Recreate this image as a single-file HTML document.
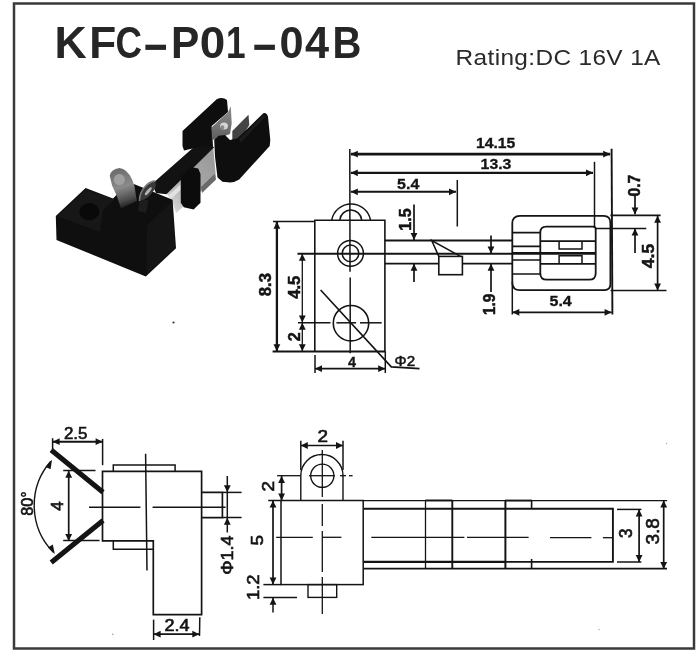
<!DOCTYPE html>
<html><head><meta charset="utf-8"><title>KFC-P01-04B</title>
<style>
html,body{margin:0;padding:0;background:#fff;}
body{width:700px;height:660px;overflow:hidden;font-family:"Liberation Sans",sans-serif;}
svg{display:block;position:absolute;left:0;top:0;}
.d line,.d path,.d rect,.d circle,.d polyline{stroke:#141414;fill:none;stroke-linecap:butt;}
.d .f{fill:#141414;stroke:none;}
.t{font-family:"Liberation Sans",sans-serif;fill:#141414;}
</style></head><body>
<svg width="700" height="660" viewBox="0 0 700 660">
<defs>
<filter id="soft" color-interpolation-filters="sRGB" x="-5%" y="-5%" width="110%" height="110%"><feGaussianBlur stdDeviation="0.4"/></filter>
<filter id="ph" color-interpolation-filters="sRGB" x="-5%" y="-5%" width="110%" height="110%"><feGaussianBlur stdDeviation="0.6"/></filter>
<filter id="tt" color-interpolation-filters="sRGB" x="-5%" y="-20%" width="110%" height="140%"><feGaussianBlur stdDeviation="0.3"/></filter>
</defs>
<rect x="14" y="3.5" width="680" height="645" fill="none" stroke="#3a3a3a" stroke-width="2.5"/>
<g filter="url(#tt)">
<text class="t" transform="translate(54.5,57.6) scale(1.013,1)" font-size="44" font-weight="bold" style="fill:#262626">K</text>
<text class="t" transform="translate(89.2,57.6) scale(1.003,1)" font-size="44" font-weight="bold" style="fill:#262626">F</text>
<text class="t" transform="translate(115.5,57.6) scale(0.834,1)" font-size="44" font-weight="bold" style="fill:#262626">C</text>
<rect x="145.4" y="44.7" width="20.6" height="5.2" fill="#262626"/>
<text class="t" transform="translate(170.9,57.6) scale(0.964,1)" font-size="44" font-weight="bold" style="fill:#262626">P</text>
<text class="t" transform="translate(199.8,57.6) scale(1.042,1)" font-size="44" font-weight="bold" style="fill:#262626">0</text>
<text class="t" transform="translate(225.9,57.6) scale(0.8,1)" font-size="44" font-weight="bold" style="fill:#262626">1</text>
<rect x="254.3" y="44.7" width="20.6" height="5.2" fill="#262626"/>
<text class="t" transform="translate(279.6,57.6) scale(0.984,1)" font-size="44" font-weight="bold" style="fill:#262626">0</text>
<text class="t" transform="translate(305.0,57.6) scale(0.984,1)" font-size="44" font-weight="bold" style="fill:#262626">4</text>
<text class="t" transform="translate(332.6,57.6) scale(0.909,1)" font-size="44" font-weight="bold" style="fill:#262626">B</text>
<text class="t" transform="translate(455.6,64.6) scale(1.08,1)" font-size="22.6" textLength="189.6" lengthAdjust="spacing" style="fill:#2a2a2a">Rating:DC 16V 1A</text>
</g>
<defs>
<linearGradient id="gsil" gradientUnits="userSpaceOnUse" x1="168" y1="205" x2="214" y2="165">
<stop offset="0" stop-color="#d9d9d9"/><stop offset="0.25" stop-color="#bdbdbd"/><stop offset="0.55" stop-color="#a8a8a8"/><stop offset="1" stop-color="#9c9c9c"/>
</linearGradient>
<linearGradient id="glug" gradientUnits="userSpaceOnUse" x1="118" y1="170" x2="130" y2="207">
<stop offset="0" stop-color="#6e6e6e"/><stop offset="0.45" stop-color="#8a8a8a"/><stop offset="0.8" stop-color="#4a4a4a"/><stop offset="1" stop-color="#161616"/>
</linearGradient>
<linearGradient id="gpl" x1="0" y1="0" x2="0" y2="1">
<stop offset="0" stop-color="#8f8f8f"/><stop offset="1" stop-color="#5e5e5e"/>
</linearGradient>
</defs>
<g filter="url(#ph)">
<polygon points="166.4,193.6 213.3,147.9 216,178 176,213 171.7,199.7" fill="url(#gsil)"/>
<polygon points="201,187 214.5,174 216,179.5 202,193" fill="#6a6a6a"/>
<polygon points="168,196 180.5,184.5 180.5,190 170,200" fill="#e2e2e2"/>
<polygon points="152,184 197.4,143.9 208.8,141.4 214,147.5 166.4,194.2 156,193" fill="#121212"/>
<path d="M182.5,131 L216.7,99.2 Q222.5,96.5 227,100 L228,112 L211.7,126 L213,146 L199,147 L184,150.5 L182.5,146 Z" fill="#0e0e0e"/>
<polygon points="211.5,127.5 228.3,111.7 230.8,106 231.7,123.3 230,134 215,139.5 212,140" fill="url(#gpl)"/>
<ellipse cx="224" cy="126" rx="4" ry="3.6" fill="#d4d4d4"/>
<ellipse cx="222.3" cy="127.5" rx="2" ry="2.2" fill="#8a8a8a"/>
<polygon points="232.3,131 248.5,114.7 249.3,125 240,140 232.3,140" fill="#444"/>
<path d="M214.2,140 L218.7,135.8 L225,135 L230,140 L237.5,138.3 L263.3,113.3 Q266.5,112 268,116.7 L270.3,140 L269.7,146 L239.2,179.5 Q234,183 228,182.3 L222.5,181.7 L217.5,177.5 L215,156.7 Z" fill="#0e0e0e"/>
<polygon points="238.5,139.5 263.3,115 266,116 241,142.5" fill="#1b1b1b"/>
<path d="M180.8,180 L182.3,175.5 L190.6,167.1 L198.2,168.6 L200.5,173.9 L200.5,202.7 L193.6,209.5 L183.8,207.3 L180.8,202.7 Z" fill="#0c0c0c"/>
<polygon points="55.8,216 85.6,188 113,198.5 125,186 134.5,184.2 172.6,199.8 176,248.3 145.8,276.4 56.5,240" fill="#0f0f0f"/>
<polygon points="57.5,216.2 85.8,189.6 114,199.4 103,210 100,232" fill="#171717"/>
<polygon points="147,225.5 172,201.5 175,247.8 146.5,274.5" fill="#151515"/>
<ellipse cx="89.3" cy="211.6" rx="10" ry="8.6" fill="#090909"/>
<path d="M109.7,175.8 Q110.5,169.5 119.4,167.9 Q127,168.5 132.1,179.4 L134.5,186.1 L136.8,201 L121,208.5 L117,196.4 L112.1,185.5 Z" fill="url(#glug)"/>
<ellipse cx="119.4" cy="179.6" rx="5.6" ry="5.6" fill="#9f9f9f"/>
<path d="M139.5,200 L138,211 L146,213 L148.5,200 Z" fill="#1d1d1d"/>
<ellipse cx="147.9" cy="190.9" rx="11.2" ry="4.6" transform="rotate(-50 147.9 190.9)" fill="#3a3a3a"/>
<path d="M139.6,201 Q139,193 146,185.5 Q151,180.8 155.5,181.2" fill="none" stroke="#7d7d7d" stroke-width="1.6"/>
<ellipse cx="148.3" cy="191.2" rx="5" ry="1.5" transform="rotate(-50 148.3 191.2)" fill="#b4b4b4"/>
</g>
<circle cx="173.5" cy="322.5" r="1.1" fill="#333"/>
<circle cx="112.8" cy="634.2" r="0.8" fill="#999"/>
<circle cx="666.5" cy="443.5" r="0.7" fill="#aaa"/>
<circle cx="599" cy="629.5" r="0.7" fill="#aaa"/>
<g class="d" filter="url(#soft)">
<line x1="349.8" y1="149" x2="350" y2="271.7" stroke-width="1.5" />
<line x1="350.2" y1="277.6" x2="350.2" y2="353.3" stroke-width="1.5" />
<line x1="350.8" y1="154.1" x2="610.2" y2="154.1" stroke-width="2.6" />
<polygon class="f" points="350.8,154.1 357.8,150.7 357.8,157.5"/>
<polygon class="f" points="610.2,154.1 603.2,150.7 603.2,157.5"/>
<line x1="350.8" y1="172.8" x2="593" y2="172.8" stroke-width="2.3" />
<polygon class="f" points="350.8,172.8 357.8,169.4 357.8,176.2"/>
<polygon class="f" points="593.0,172.8 586.0,169.4 586.0,176.2"/>
<line x1="350.8" y1="191.8" x2="456" y2="191.8" stroke-width="2.1" />
<polygon class="f" points="350.8,191.8 357.8,188.4 357.8,195.2"/>
<polygon class="f" points="456.0,191.8 449.0,188.4 449.0,195.2"/>
<line x1="457.3" y1="180" x2="457.3" y2="226.5" stroke-width="1.5" />
<line x1="594.5" y1="161.8" x2="594.5" y2="228" stroke-width="1.5" />
<line x1="611.6" y1="148.7" x2="612.4" y2="314.5" stroke-width="1.9" />
<path d="M314.8,351.5 V220.3 H384.9 V351.5" stroke-width="1.6"/>
<line x1="272.6" y1="351.5" x2="385.7" y2="351.5" stroke-width="2.1" />
<path d="M331.7,220 A19.75,19.75 0 0 1 370.5,220" stroke-width="1.5"/>
<path d="M339.8,220 A11,11 0 0 1 361.7,220" stroke-width="1.5"/>
<circle cx="350.5" cy="253.4" r="12.9" stroke-width="1.5"/>
<circle cx="350.5" cy="253.4" r="8.3" stroke-width="1.5"/>
<line x1="297.5" y1="253.7" x2="512.3" y2="253.7" stroke-width="1.9" />
<circle cx="351" cy="323.2" r="17.7" stroke-width="1.6"/>
<line x1="298" y1="322.8" x2="330.5" y2="322.8" stroke-width="1.5" />
<line x1="336.4" y1="322.8" x2="356.1" y2="322.8" stroke-width="1.5" />
<line x1="360" y1="322.8" x2="381.7" y2="322.8" stroke-width="1.5" />
<polyline points="320.6,290 391.3,366.9 419.5,368.6" stroke-width="1.6"/>
<line x1="273" y1="221.6" x2="315" y2="221.6" stroke-width="1.5" />
<line x1="276.9" y1="221.8" x2="276.9" y2="351.3" stroke-width="2.3" />
<polygon class="f" points="276.9,221.8 273.5,228.8 280.3,228.8"/>
<polygon class="f" points="276.9,351.3 273.5,344.3 280.3,344.3"/>
<line x1="302.3" y1="253.7" x2="302.3" y2="322.5" stroke-width="1.3" />
<polygon class="f" points="302.3,253.7 298.9,260.7 305.7,260.7"/>
<polygon class="f" points="302.3,322.5 298.9,315.5 305.7,315.5"/>
<line x1="302.3" y1="322.6" x2="302.3" y2="351.2" stroke-width="1.3" />
<polygon class="f" points="302.3,322.8 298.9,329.8 305.7,329.8"/>
<polygon class="f" points="302.3,351.2 298.9,344.2 305.7,344.2"/>
<line x1="315" y1="355" x2="315" y2="373" stroke-width="1.5" />
<line x1="385.3" y1="351.5" x2="385.3" y2="373" stroke-width="1.5" />
<line x1="315" y1="368.7" x2="385.2" y2="368.7" stroke-width="1.7" />
<polygon class="f" points="315.0,368.7 322.0,365.3 322.0,372.1"/>
<polygon class="f" points="385.2,368.7 378.2,365.3 378.2,372.1"/>
<line x1="385" y1="240.5" x2="512.3" y2="240.5" stroke-width="2.1" />
<line x1="385" y1="263.6" x2="512.3" y2="263.6" stroke-width="1.9" />
<line x1="414" y1="204.6" x2="414" y2="240" stroke-width="1.7" />
<polygon class="f" points="414.0,240.0 410.6,233.0 417.4,233.0"/>
<line x1="414" y1="263.5" x2="414" y2="282" stroke-width="1.7" />
<polygon class="f" points="414.0,263.8 410.6,270.8 417.4,270.8"/>
<polyline points="438.8,256.4 431.7,240.6 460.5,256.4" stroke-width="1.5"/>
<rect x="438.8" y="256.4" width="23.6" height="18.3" stroke-width="1.6" style="fill:#fff"/>
<line x1="491" y1="235.5" x2="491" y2="253.6" stroke-width="1.7" />
<polygon class="f" points="491.0,253.4 487.6,246.4 494.4,246.4"/>
<line x1="491" y1="263.5" x2="491" y2="292" stroke-width="1.7" />
<polygon class="f" points="491.0,263.8 487.6,270.8 494.4,270.8"/>
<path d="M520,215.9 H603.6 Q610.4,215.9 610.4,222.9 V284 Q610.4,290.1 604.4,290.1 H520 Q512.3,290.1 512.3,282.4 V223.6 Q512.3,215.9 520,215.9 Z" stroke-width="1.8"/>
<path d="M546.3,226.7 H593.2 Q595.7,226.7 595.7,229.2 V273.2 Q595.7,279.7 589.2,279.7 H546.8 Q540.3,279.7 540.3,273.2 V232.7 Q540.3,226.7 546.3,226.7 Z" stroke-width="1.8"/>
<path d="M512.3,232.7 H540.3 M512.3,246.3 H540.3 M512.3,260 H540.3 M512.3,274 H540.3" stroke-width="1.7"/>
<line x1="540.3" y1="241.1" x2="595.7" y2="241.1" stroke-width="1.7" />
<line x1="512.3" y1="253.4" x2="595.7" y2="253.4" stroke-width="2.6" />
<line x1="540.3" y1="263.8" x2="595.7" y2="263.8" stroke-width="1.7" />
<path d="M559.1,241.1 V248.9 H582 V241.1" stroke-width="1.5"/>
<path d="M559.1,263.8 V255.8 H582 V263.8" stroke-width="1.5"/>
<line x1="635" y1="196" x2="635" y2="214.3" stroke-width="1.7" />
<polygon class="f" points="635.0,214.6 631.6,207.6 638.4,207.6"/>
<line x1="635" y1="229" x2="635" y2="253" stroke-width="1.7" />
<polygon class="f" points="635.0,228.6 631.6,235.6 638.4,235.6"/>
<line x1="610.4" y1="215.4" x2="660.6" y2="215.4" stroke-width="1.9" />
<line x1="595" y1="228.5" x2="646.3" y2="228.5" stroke-width="1.5" />
<line x1="657.6" y1="215.7" x2="657.6" y2="290.5" stroke-width="1.7" />
<polygon class="f" points="657.6,215.7 654.2,222.7 661.0,222.7"/>
<polygon class="f" points="657.6,290.5 654.2,283.5 661.0,283.5"/>
<line x1="610.6" y1="290.5" x2="666.5" y2="290.5" stroke-width="1.7" />
<line x1="512.3" y1="282" x2="512.3" y2="314.5" stroke-width="1.5" />
<line x1="512.3" y1="312.3" x2="611.6" y2="312.3" stroke-width="1.8" />
<polygon class="f" points="512.3,312.3 519.3,308.9 519.3,315.7"/>
<polygon class="f" points="611.6,312.3 604.6,308.9 604.6,315.7"/>
</g>
<g filter="url(#tt)">
<text class="t" x="495.6" y="148.3" font-size="14.4" text-anchor="middle" textLength="39.3" lengthAdjust="spacingAndGlyphs" font-weight="bold" stroke="#141414" stroke-width="0.3">14.15</text>
<text class="t" x="496" y="169.3" font-size="14.4" text-anchor="middle" textLength="30.8" lengthAdjust="spacingAndGlyphs" font-weight="bold" stroke="#141414" stroke-width="0.3">13.3</text>
<text class="t" x="408.2" y="189" font-size="14.4" text-anchor="middle" textLength="22.2" lengthAdjust="spacingAndGlyphs" font-weight="bold" stroke="#141414" stroke-width="0.3">5.4</text>
<text class="t" x="560.6" y="306.3" font-size="14.4" text-anchor="middle" textLength="22.2" lengthAdjust="spacingAndGlyphs" font-weight="bold" stroke="#141414" stroke-width="0.3">5.4</text>
<text class="t" x="352" y="367.3" font-size="14.4" text-anchor="middle" font-weight="bold" stroke="#141414" stroke-width="0.3">4</text>
<text class="t" x="404.8" y="365.5" font-size="15" text-anchor="middle" textLength="20.5" lengthAdjust="spacingAndGlyphs" stroke="#141414" stroke-width="0.55">Φ2</text>
<text class="t" x="411.2" y="219.6" font-size="15.8" text-anchor="middle" transform="rotate(-90 411.2 219.6)" textLength="22.4" lengthAdjust="spacingAndGlyphs" font-weight="bold" stroke="#141414" stroke-width="0.5">1.5</text>
<text class="t" x="271.5" y="284.6" font-size="15.8" text-anchor="middle" transform="rotate(-90 271.5 284.6)" textLength="23.2" lengthAdjust="spacingAndGlyphs" font-weight="bold" stroke="#141414" stroke-width="0.5">8.3</text>
<text class="t" x="300.2" y="287.2" font-size="15.8" text-anchor="middle" transform="rotate(-90 300.2 287.2)" textLength="23.2" lengthAdjust="spacingAndGlyphs" font-weight="bold" stroke="#141414" stroke-width="0.5">4.5</text>
<text class="t" x="300.2" y="336.7" font-size="15.8" text-anchor="middle" transform="rotate(-90 300.2 336.7)" textLength="9" lengthAdjust="spacingAndGlyphs" font-weight="bold" stroke="#141414" stroke-width="0.5">2</text>
<text class="t" x="494.8" y="304.4" font-size="15.8" text-anchor="middle" transform="rotate(-90 494.8 304.4)" textLength="21.4" lengthAdjust="spacingAndGlyphs" font-weight="bold" stroke="#141414" stroke-width="0.5">1.9</text>
<text class="t" x="640.2" y="185.6" font-size="15.8" text-anchor="middle" transform="rotate(-90 640.2 185.6)" textLength="21.9" lengthAdjust="spacingAndGlyphs" font-weight="bold" stroke="#141414" stroke-width="0.5">0.7</text>
<text class="t" x="653.6" y="256" font-size="15.8" text-anchor="middle" transform="rotate(-90 653.6 256)" textLength="24.3" lengthAdjust="spacingAndGlyphs" font-weight="bold" stroke="#141414" stroke-width="0.5">4.5</text>
</g>
<g class="d" filter="url(#soft)">
<path d="M102.5,471.3 H201.6 V614.6 H153.3 V540.8 H102.5 Z" stroke-width="1.7"/>
<path d="M113.3,471.3 V464.9 H175.1 V471.3" stroke-width="1.5"/>
<path d="M113.3,541 V549.2 H153.3" stroke-width="1.5"/>
<path d="M201.6,492.3 H222.4 V517.6 H201.6" stroke-width="1.7"/>
<line x1="145.6" y1="453.8" x2="147" y2="570.5" stroke-width="1.5" />
<line x1="89" y1="507.2" x2="140.4" y2="507.2" stroke-width="1.4" />
<line x1="152.6" y1="507.2" x2="225.6" y2="507.2" stroke-width="1.4" />
<line x1="51.2" y1="450" x2="103" y2="492.2" stroke-width="5"/>
<line x1="51.2" y1="562.5" x2="103" y2="520.5" stroke-width="5"/>
<line x1="52.6" y1="438.2" x2="52.6" y2="449.5" stroke-width="1.5" />
<line x1="102.6" y1="438.9" x2="102.6" y2="465.2" stroke-width="1.5" />
<line x1="52.6" y1="441.7" x2="102.6" y2="441.7" stroke-width="2.0" />
<polygon class="f" points="52.6,441.7 59.6,438.3 59.6,445.1"/>
<polygon class="f" points="102.6,441.7 95.6,438.3 95.6,445.1"/>
<line x1="63.2" y1="470.6" x2="95.5" y2="470.6" stroke-width="1.5" />
<line x1="63.2" y1="540.6" x2="99.5" y2="540.6" stroke-width="1.5" />
<line x1="68.7" y1="470.8" x2="68.7" y2="541" stroke-width="1.7" />
<polygon class="f" points="68.7,470.8 65.3,477.8 72.1,477.8"/>
<polygon class="f" points="68.7,541.0 65.3,534.0 72.1,534.0"/>
<path d="M50.8,461.3 A67,67 0 0 0 53.6,552.6" stroke-width="1.4"/>
<polygon class="f" points="52,459.8 50.6,469.2 45.6,467.0"/>
<polygon class="f" points="54.8,554 48,547.4 52.8,544.6"/>
<line x1="222.5" y1="492.4" x2="241.6" y2="492.4" stroke-width="1.5" />
<line x1="222.5" y1="517.5" x2="241.6" y2="517.5" stroke-width="1.5" />
<line x1="227.3" y1="476" x2="227.3" y2="532.5" stroke-width="1.5" />
<polygon class="f" points="227.3,492.2 223.9,485.2 230.7,485.2"/>
<polygon class="f" points="227.3,517.7 223.9,524.7 230.7,524.7"/>
<line x1="153.6" y1="619.6" x2="153.6" y2="640" stroke-width="1.5" />
<line x1="199.8" y1="617.3" x2="199.5" y2="636" stroke-width="1.5" />
<line x1="153.6" y1="634.2" x2="199.3" y2="634.2" stroke-width="1.7" />
<polygon class="f" points="153.6,634.2 160.6,630.8 160.6,637.6"/>
<polygon class="f" points="199.3,634.2 192.3,630.8 192.3,637.6"/>
<rect x="281" y="500.5" width="82.2" height="84.1" stroke-width="1.5"/>
<path d="M300.8,500.5 V475.6 A21.1,21.1 0 0 1 343,475.6 V500.5" stroke-width="1.4"/>
<circle cx="322.3" cy="475.7" r="11.6" stroke-width="1.4"/>
<line x1="277.1" y1="475.7" x2="300.8" y2="475.7" stroke-width="1.3" />
<line x1="309" y1="475.7" x2="335" y2="475.7" stroke-width="1.3" />
<line x1="340" y1="475.7" x2="346" y2="475.7" stroke-width="1.3" />
<line x1="349" y1="475.7" x2="352.6" y2="475.7" stroke-width="1.3" />
<line x1="322.3" y1="450" x2="322.3" y2="497" stroke-width="1.3" />
<line x1="322.3" y1="504" x2="322.3" y2="526" stroke-width="1.3" />
<line x1="322.3" y1="531" x2="322.3" y2="572" stroke-width="1.3" />
<line x1="322.3" y1="577" x2="322.3" y2="614" stroke-width="1.3" />
<line x1="300.8" y1="440.7" x2="300.8" y2="470" stroke-width="1.5" />
<line x1="343" y1="440.7" x2="343" y2="470" stroke-width="1.5" />
<line x1="300.8" y1="445.5" x2="343" y2="445.5" stroke-width="1.7" />
<polygon class="f" points="300.8,445.5 307.8,442.1 307.8,448.9"/>
<polygon class="f" points="343.0,445.5 336.0,442.1 336.0,448.9"/>
<line x1="281.6" y1="475.9" x2="281.6" y2="500.5" stroke-width="1.7" />
<polygon class="f" points="281.6,475.9 278.2,482.9 285.0,482.9"/>
<polygon class="f" points="281.6,500.5 278.2,493.5 285.0,493.5"/>
<line x1="268.2" y1="500.5" x2="281" y2="500.5" stroke-width="1.5" />
<line x1="263.4" y1="584.6" x2="281" y2="584.6" stroke-width="1.5" />
<line x1="273" y1="500.5" x2="273" y2="584.6" stroke-width="1.7" />
<polygon class="f" points="273.0,500.5 269.6,507.5 276.4,507.5"/>
<polygon class="f" points="273.0,584.6 269.6,577.6 276.4,577.6"/>
<line x1="263.4" y1="597.6" x2="297" y2="597.6" stroke-width="1.5" />
<line x1="273" y1="598" x2="273" y2="612.6" stroke-width="1.5" />
<polygon class="f" points="273.0,597.8 269.6,604.8 276.4,604.8"/>
<rect x="308" y="584.6" width="28.7" height="12.8" stroke-width="1.4"/>
<line x1="276.2" y1="537.3" x2="312.8" y2="537.3" stroke-width="1.3" />
<line x1="322.3" y1="537.3" x2="341.4" y2="537.3" stroke-width="1.3" />
<line x1="371.3" y1="537.3" x2="464.4" y2="537.3" stroke-width="1.3" />
<line x1="467" y1="537.3" x2="528.6" y2="537.3" stroke-width="1.3" />
<line x1="550" y1="537.7" x2="591.4" y2="537.7" stroke-width="1.3" />
<line x1="602.9" y1="537.7" x2="613.4" y2="537.7" stroke-width="1.3" />
<line x1="363.2" y1="500.6" x2="667.1" y2="500.6" stroke-width="1.2" />
<line x1="425.3" y1="500.4" x2="452.3" y2="500.4" stroke-width="1.8" />
<line x1="505" y1="500.5" x2="532" y2="500.5" stroke-width="1.8" />
<line x1="363.2" y1="508.7" x2="505" y2="508.7" stroke-width="2.1" />
<line x1="363.2" y1="561.9" x2="505" y2="561.9" stroke-width="2.1" />
<line x1="363.2" y1="568.6" x2="667" y2="568.6" stroke-width="1.8" />
<path d="M425.5,500 V568.4" stroke-width="1.3"/>
<path d="M452.3,500 V568.4" stroke-width="1.9"/>
<path d="M505.4,500.6 V569" stroke-width="2"/>
<path d="M531.6,500.6 V508.6 M531.6,559 V569" stroke-width="1.6"/>
<path d="M505,508.7 H612.9 V561.9 H505" stroke-width="1.9"/>
<line x1="617" y1="509.4" x2="641.4" y2="509.4" stroke-width="1.5" />
<line x1="617" y1="562" x2="641.4" y2="562" stroke-width="1.5" />
<line x1="639.1" y1="509.4" x2="639.1" y2="562" stroke-width="1.7" />
<polygon class="f" points="639.1,509.4 635.7,516.4 642.5,516.4"/>
<polygon class="f" points="639.1,562.0 635.7,555.0 642.5,555.0"/>
<line x1="663.7" y1="500.6" x2="663.7" y2="569" stroke-width="1.7" />
<polygon class="f" points="663.7,500.6 660.3,507.6 667.1,507.6"/>
<polygon class="f" points="663.7,569.0 660.3,562.0 667.1,562.0"/>
</g>
<g filter="url(#tt)">
<text class="t" x="75.7" y="438.9" font-size="16" text-anchor="middle" textLength="23.5" lengthAdjust="spacingAndGlyphs" stroke="#141414" stroke-width="0.62">2.5</text>
<text class="t" x="177" y="630.5" font-size="16" text-anchor="middle" textLength="25" lengthAdjust="spacingAndGlyphs" stroke="#141414" stroke-width="0.62">2.4</text>
<text class="t" x="322.7" y="441.6" font-size="16" text-anchor="middle" textLength="10.5" lengthAdjust="spacingAndGlyphs" stroke="#141414" stroke-width="0.62">2</text>
<text class="t" x="63.2" y="506" font-size="16" text-anchor="middle" transform="rotate(-90 63.2 506)" textLength="9.5" lengthAdjust="spacingAndGlyphs" stroke="#141414" stroke-width="0.62">4</text>
<text class="t" x="32.7" y="503.5" font-size="16" text-anchor="middle" transform="rotate(-90 32.7 503.5)" textLength="24.6" lengthAdjust="spacingAndGlyphs" stroke="#141414" stroke-width="0.62">80°</text>
<text class="t" x="233" y="555.2" font-size="16" text-anchor="middle" transform="rotate(-90 233 555.2)" textLength="39.3" lengthAdjust="spacingAndGlyphs" stroke="#141414" stroke-width="0.62">Φ1.4</text>
<text class="t" x="274.2" y="486.3" font-size="16" text-anchor="middle" transform="rotate(-90 274.2 486.3)" textLength="10.5" lengthAdjust="spacingAndGlyphs" stroke="#141414" stroke-width="0.62">2</text>
<text class="t" x="262.7" y="540.2" font-size="16" text-anchor="middle" transform="rotate(-90 262.7 540.2)" textLength="10.5" lengthAdjust="spacingAndGlyphs" stroke="#141414" stroke-width="0.62">5</text>
<text class="t" x="259.1" y="587.2" font-size="16" text-anchor="middle" transform="rotate(-90 259.1 587.2)" textLength="25.5" lengthAdjust="spacingAndGlyphs" stroke="#141414" stroke-width="0.62">1.2</text>
<text class="t" x="632.5" y="533.3" font-size="17.5" text-anchor="middle" transform="rotate(-90 632.5 533.3)" textLength="9.5" lengthAdjust="spacingAndGlyphs" stroke="#141414" stroke-width="0.62">3</text>
<text class="t" x="659" y="531.3" font-size="17.5" text-anchor="middle" transform="rotate(-90 659 531.3)" textLength="26.5" lengthAdjust="spacingAndGlyphs" stroke="#141414" stroke-width="0.62">3.8</text>
</g>
</svg>
</body></html>
